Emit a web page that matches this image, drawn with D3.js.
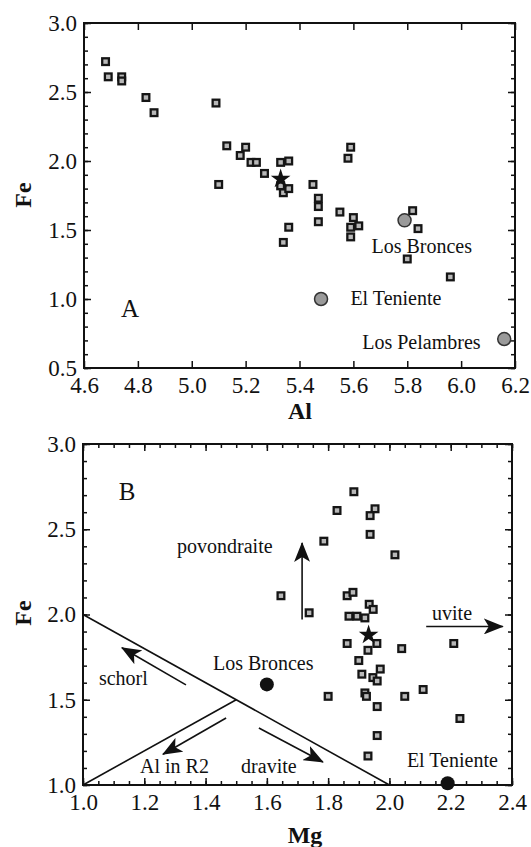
<!DOCTYPE html>
<html>
<head>
<meta charset="utf-8">
<script src="https://cdn.jsdelivr.net/npm/d3@7"></script>
<style>
  body { margin: 0; background: #fff; }
</style>
</head>
<body>
<div id="chart"></div>
<script>
const width = 531, height = 847;
const serif = "'Liberation Serif', 'DejaVu Serif', 'Times New Roman', serif";

// ---- panel A: Al vs Fe (tourmaline analyses) ----
const samplesA = [
  [4.68, 2.72], [4.69, 2.61], [4.74, 2.61], [4.74, 2.58], [4.83, 2.46], [4.86, 2.35],
  [5.09, 2.42], [5.10, 1.83], [5.13, 2.11], [5.18, 2.04], [5.20, 2.10], [5.22, 1.99],
  [5.24, 1.99], [5.27, 1.91], [5.33, 1.99], [5.36, 2.00], [5.33, 1.82], [5.34, 1.77],
  [5.36, 1.80], [5.45, 1.83], [5.47, 1.73], [5.47, 1.67], [5.36, 1.52], [5.34, 1.41],
  [5.47, 1.56], [5.55, 1.63], [5.60, 1.59], [5.59, 1.52], [5.62, 1.53], [5.59, 1.45],
  [5.58, 2.02], [5.59, 2.10], [5.82, 1.64], [5.84, 1.51], [5.80, 1.29], [5.96, 1.16]
];
const starA = [5.33, 1.87];
const sitesA = [
  {name: "Los Bronces",   al: 5.79, fe: 1.57, lx: 5.667, ly: 1.333},
  {name: "El Teniente",   al: 5.48, fe: 1.00, lx: 5.589, ly: 0.957},
  {name: "Los Pelambres", al: 6.16, fe: 0.71, lx: 5.633, ly: 0.638}
];
const alTicks = [4.6, 4.8, 5.0, 5.2, 5.4, 5.6, 5.8, 6.0, 6.2];
const feTicksA = [0.5, 1.0, 1.5, 2.0, 2.5, 3.0];

// ---- panel B: Mg vs Fe ----
const samplesB = [
  [1.884, 2.72], [1.829, 2.61], [1.953, 2.62], [1.937, 2.58], [1.937, 2.47], [1.786, 2.43],
  [2.018, 2.35], [1.646, 2.11], [1.738, 2.01], [1.862, 2.11], [1.881, 2.13], [1.934, 2.06],
  [1.947, 2.03], [1.868, 1.99], [1.894, 1.99], [1.920, 1.98], [1.862, 1.83], [1.959, 1.83],
  [2.040, 1.80], [2.210, 1.83], [1.930, 1.79], [1.900, 1.73], [1.970, 1.68], [1.910, 1.65],
  [1.946, 1.63], [1.960, 1.61], [2.110, 1.56], [1.800, 1.52], [1.920, 1.54], [1.925, 1.52],
  [2.050, 1.52], [1.960, 1.46], [2.230, 1.39], [1.960, 1.29], [1.930, 1.17]
];
const starB = [1.932, 1.88];
const sitesB = [
  {name: "Los Bronces", mg: 1.60, fe: 1.59, lx: 1.424, ly: 1.674},
  {name: "El Teniente", mg: 2.19, fe: 1.01, lx: 2.057, ly: 1.106}
];
const boundaryLines = [
  [[1.0, 2.0], [2.0, 1.0]],
  [[1.0, 1.0], [1.5, 1.5]]
];
const vectors = [
  {name: "schorl",      from: [1.336, 1.587], to: [1.127, 1.805], lx: 1.052, ly: 1.587},
  {name: "Al in R2",    from: [1.467, 1.393], to: [1.261, 1.180], lx: 1.186, ly: 1.070},
  {name: "dravite",     from: [1.574, 1.334], to: [1.783, 1.135], lx: 1.516, ly: 1.070},
  {name: "povondraite", from: [1.715, 1.970], to: [1.715, 2.420], lx: 1.307, ly: 2.361},
  {name: "uvite",       from: [2.120, 1.930], to: [2.370, 1.930], lx: 2.139, ly: 1.968}
];
const mgTicks = [1.0, 1.2, 1.4, 1.6, 1.8, 2.0, 2.2, 2.4];
const feTicksB = [1.0, 1.5, 2.0, 2.5, 3.0];

const svg = d3.select("#chart").append("svg")
  .attr("width", width).attr("height", height)
  .style("font-family", serif);

svg.append("defs").append("marker")
  .attr("id", "head")
  .attr("viewBox", "0 0 20 16")
  .attr("refX", 19).attr("refY", 8)
  .attr("markerUnits", "userSpaceOnUse")
  .attr("markerWidth", 20).attr("markerHeight", 16)
  .attr("orient", "auto")
  .append("path").attr("d", "M0,0 L20,8 L0,16 L5,8 Z").attr("fill", "#111");

const fmt = d3.format(".1f");

function label(g, x, y, str, size, bold) {
  return g.append("text")
    .attr("x", x).attr("y", y)
    .attr("fill", "#111")
    .style("font-family", serif)
    .style("font-size", size + "px")
    .style("font-weight", bold ? "bold" : "normal")
    .text(str);
}

function drawFrame(g, x, y, xMajor, xMinor, yMajor, yMinor) {
  const [x0, x1] = x.range(), [y0, y1] = y.range();
  const add = (axis, tx, ty, vals, size, labels, pad) => {
    const a = g.append("g").attr("transform", `translate(${tx},${ty})`)
      .call(axis.tickValues(vals).tickSize(-size).tickPadding(pad || 0)
        .tickFormat(labels ? fmt : ""));
    a.attr("font-family", null).attr("font-size", null);
    a.select(".domain").remove();
    a.selectAll("line").attr("stroke", "#111").attr("stroke-width", 1.5);
    a.selectAll("text").style("font-family", serif).style("font-size", "23px").attr("fill", "#111");
  };
  add(d3.axisBottom(x), 0, y0, xMajor, 7, true, 9);
  add(d3.axisTop(x), 0, y1, xMajor, 7, false);
  add(d3.axisLeft(y), x0, 0, yMajor, 7, true, 7);
  add(d3.axisRight(y), x1, 0, yMajor, 7, false);
  if (xMinor) {
    add(d3.axisBottom(x), 0, y0, xMinor, 4, false);
    add(d3.axisTop(x), 0, y1, xMinor, 4, false);
  }
  add(d3.axisLeft(y), x0, 0, yMinor, 4, false);
  add(d3.axisRight(y), x1, 0, yMinor, 4, false);
  g.append("rect")
    .attr("x", x0).attr("y", y1).attr("width", x1 - x0).attr("height", y0 - y1)
    .attr("fill", "none").attr("stroke", "#111").attr("stroke-width", 2);
}

function drawSquares(g, pts, x, y) {
  const s = g.selectAll(".sq").data(pts).enter().append("g")
    .attr("class", "sq")
    .attr("transform", d => `translate(${x(d[0])},${y(d[1])})`);
  s.append("rect").attr("x", -4.5).attr("y", -4.5).attr("width", 9).attr("height", 9).attr("fill", "#151515");
  s.append("rect").attr("x", -2.2).attr("y", -2.2).attr("width", 4.4).attr("height", 4.4).attr("fill", "#b8b8b8");
}

function drawStar(g, p, x, y) {
  g.append("path")
    .attr("d", d3.symbol().type(d3.symbolStar).size(120)())
    .attr("transform", `translate(${x(p[0])},${y(p[1])})`)
    .attr("fill", "#111");
}

function axisTitle(text, px, py, rotate) {
  svg.append("text")
    .attr("transform", `translate(${px},${py})` + (rotate ? " rotate(-90)" : ""))
    .attr("text-anchor", "middle")
    .attr("fill", "#111")
    .style("font-family", serif)
    .style("font-size", "24px").style("font-weight", "bold")
    .text(text);
}

// ---------- Panel A ----------
const xA = d3.scaleLinear().domain([4.6, 6.2]).range([84, 515]);
const yA = d3.scaleLinear().domain([0.5, 3.0]).range([368, 23]);
const gA = svg.append("g");
drawFrame(gA, xA, yA, alTicks, null, feTicksA, d3.range(5, 31).map(d => d / 10));
drawSquares(gA, samplesA, xA, yA);
drawStar(gA, starA, xA, yA);
gA.selectAll(".site").data(sitesA).enter().append("circle")
  .attr("cx", d => xA(d.al)).attr("cy", d => yA(d.fe)).attr("r", 6.5)
  .attr("fill", "#9a9a9a").attr("stroke", "#333").attr("stroke-width", 1.5);
sitesA.forEach(d => label(gA, xA(d.lx), yA(d.ly), d.name, 20));
label(gA, xA(4.737), yA(0.87), "A", 25);
axisTitle("Fe", 31, 195, true);
axisTitle("Al", 300, 419, false);

// ---------- Panel B ----------
const xB = d3.scaleLinear().domain([1.0, 2.4]).range([83, 512]);
const yB = d3.scaleLinear().domain([1.0, 3.0]).range([785, 444]);
const gB = svg.append("g");
drawFrame(gB, xB, yB, mgTicks, d3.range(20, 49).map(d => d / 20), feTicksB, d3.range(10, 31).map(d => d / 10));
const line = d3.line().x(d => xB(d[0])).y(d => yB(d[1]));
gB.selectAll(".bnd").data(boundaryLines).enter().append("path")
  .attr("d", line).attr("fill", "none").attr("stroke", "#111").attr("stroke-width", 1.6);
gB.selectAll(".vec").data(vectors).enter().append("path")
  .attr("d", d => line([d.from, d.to]))
  .attr("fill", "none").attr("stroke", "#111").attr("stroke-width", 1.6)
  .attr("marker-end", "url(#head)");
vectors.forEach(d => label(gB, xB(d.lx), yB(d.ly), d.name, 20));
drawSquares(gB, samplesB, xB, yB);
drawStar(gB, starB, xB, yB);
gB.selectAll(".site").data(sitesB).enter().append("circle")
  .attr("cx", d => xB(d.mg)).attr("cy", d => yB(d.fe)).attr("r", 7)
  .attr("fill", "#111");
sitesB.forEach(d => label(gB, xB(d.lx), yB(d.ly), d.name, 20));
label(gB, xB(1.117), yB(2.67), "B", 25);
axisTitle("Fe", 31, 613, true);
axisTitle("Mg", 305, 843, false);
</script>
</body>
</html>
